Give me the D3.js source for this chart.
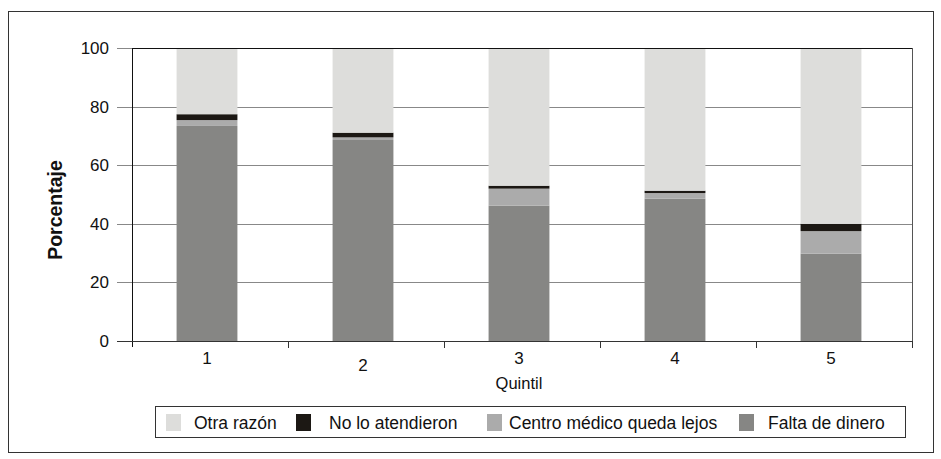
<!DOCTYPE html>
<html>
<head>
<meta charset="utf-8">
<script src="https://cdn.jsdelivr.net/npm/d3@7"></script>
<style>
  html, body { margin: 0; padding: 0; background: #fff; }
  svg { display: block; font-family: "Liberation Sans", Arial, sans-serif; }
</style>
</head>
<body>
<svg id="chart" width="941" height="459"></svg>
<script>
// Quintiles and the reasons for not receiving care (percent of each quintile)
const quintiles = ["1", "2", "3", "4", "5"];
const faltaDinero   = [73.4, 68.6, 46.2, 48.6, 29.8];
const centroLejos   = [2.0, 0.9, 5.8, 1.9, 7.7];
const noAtendieron  = [2.0, 1.6, 1.0, 0.8, 2.5];
const otraRazon     = quintiles.map((q, i) => 100 - faltaDinero[i] - centroLejos[i] - noAtendieron[i]);
const yTicks = [0, 20, 40, 60, 80, 100];

const seriesNames  = ["Falta de dinero", "Centro médico queda lejos", "No lo atendieron", "Otra razón"];
const seriesValues = [faltaDinero, centroLejos, noAtendieron, otraRazon];
const seriesColors = ["#868684", "#ababab", "#1c1814", "#dddddb"];
const legendOrder  = [3, 2, 1, 0];

const svg = d3.select("#chart");

// outer frame
svg.append("rect")
  .attr("x", 8.5).attr("y", 11.5).attr("width", 925).attr("height", 441)
  .attr("fill", "#fff").attr("stroke", "#333").attr("stroke-width", 1);

const plot = { left: 132, right: 912, top: 48, bottom: 341 };

const x = d3.scaleBand().domain(quintiles)
  .range([plot.left, plot.right]).paddingInner(0.61).paddingOuter(0.305);
const xTickScale = d3.scaleBand().domain(quintiles).range([plot.left, plot.right]);
const y = d3.scaleLinear().domain([0, 100]).range([plot.bottom, plot.top]);

// horizontal gridlines with outward ticks
svg.append("g")
  .selectAll("line").data(yTicks).join("line")
  .attr("x1", plot.left - 15).attr("x2", plot.right)
  .attr("y1", d => Math.round(y(d)) + 0.5).attr("y2", d => Math.round(y(d)) + 0.5)
  .attr("stroke", "#888").attr("stroke-width", 1);

// stacked bars
const rows = quintiles.map((q, i) => {
  const r = { q };
  seriesNames.forEach((n, k) => r[n] = seriesValues[k][i]);
  return r;
});
const stacked = d3.stack().keys(seriesNames)(rows);

const bars = svg.append("g").attr("transform", "translate(-3,0)");
stacked.forEach((layer, k) => {
  bars.append("g").attr("fill", seriesColors[k])
    .selectAll("rect").data(layer).join("rect")
    .attr("x", d => x(d.data.q))
    .attr("width", x.bandwidth())
    .attr("y", d => y(d[1]))
    .attr("height", d => y(d[0]) - y(d[1]));
});

// plot border: top and right
svg.append("line").attr("x1", plot.left).attr("x2", plot.right + 0.5)
  .attr("y1", plot.top + 0.5).attr("y2", plot.top + 0.5).attr("stroke", "#111");
svg.append("line").attr("x1", plot.right + 0.5).attr("x2", plot.right + 0.5)
  .attr("y1", plot.top).attr("y2", plot.bottom).attr("stroke", "#555");

// y axis line
svg.append("line").attr("x1", plot.left + 0.5).attr("x2", plot.left + 0.5)
  .attr("y1", plot.top).attr("y2", plot.bottom + 6).attr("stroke", "#111");
// x axis line
svg.append("line").attr("x1", plot.left - 15).attr("x2", plot.right + 0.5)
  .attr("y1", plot.bottom + 0.5).attr("y2", plot.bottom + 0.5).attr("stroke", "#333");

// x category dividers
const dividers = quintiles.map(q => xTickScale(q) + xTickScale.bandwidth());
svg.append("g").selectAll("line").data(dividers).join("line")
  .attr("x1", d => Math.round(d) + 0.5).attr("x2", d => Math.round(d) + 0.5)
  .attr("y1", plot.bottom).attr("y2", plot.bottom + 7)
  .attr("stroke", "#333");

// y tick labels
svg.append("g").selectAll("text").data(yTicks).join("text")
  .attr("x", 109).attr("y", d => y(d) + 6)
  .attr("text-anchor", "end").attr("font-size", 17).attr("fill", "#111")
  .text(d => d);

// x tick labels (the second one sits slightly lower)
const labelDrop = [0, 7, 0, 0, 0];
svg.append("g").selectAll("text").data(quintiles).join("text")
  .attr("x", d => xTickScale(d) + xTickScale.bandwidth() / 2 - 3)
  .attr("y", (d, i) => 364 + labelDrop[i])
  .attr("text-anchor", "middle").attr("font-size", 17).attr("fill", "#111")
  .text(d => d);

// axis titles
svg.append("text").attr("x", 519).attr("y", 389)
  .attr("text-anchor", "middle").attr("font-size", 16.5).attr("fill", "#111")
  .text("Quintil");
svg.append("text")
  .attr("transform", "translate(62,210) rotate(-90)")
  .attr("text-anchor", "middle").attr("font-size", 19.5).attr("font-weight", "bold").attr("fill", "#111")
  .text("Porcentaje");

// legend
const legend = svg.append("g");
legend.append("rect").attr("x", 155.5).attr("y", 406.5).attr("width", 750).attr("height", 31)
  .attr("fill", "#fff").attr("stroke", "#333");
const legendX = [166, 296, 487, 739];
const legendTextX = [194, 329, 509, 768];
legendOrder.forEach((k, j) => {
  legend.append("rect").attr("x", legendX[j]).attr("y", 414).attr("width", 15).attr("height", 17)
    .attr("fill", seriesColors[k]);
  legend.append("text").attr("x", legendTextX[j]).attr("y", 429)
    .attr("font-size", 17.5).attr("fill", "#111")
    .text(seriesNames[k]);
});
</script>
</body>
</html>
